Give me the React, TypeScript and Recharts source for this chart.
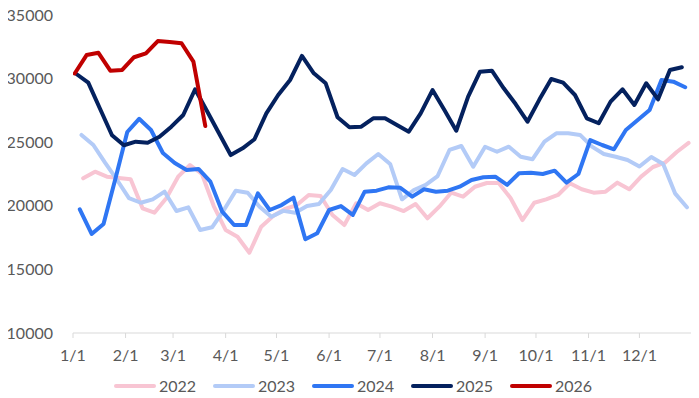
import React from "react";
import { LineChart, Line, XAxis, YAxis, Legend } from "recharts";

// Weekly values (Friday observations), first observation day-of-year offset per year
const values2022 = [22160, 22680, 22290, 22190, 22080, 19800, 19460, 20590, 22290, 23210, 22500, 19980, 18100, 17570, 16310, 18360, 19200, 19750, 20060, 20850, 20770, 19280, 18490, 20200, 19670, 20200, 19930, 19590, 20140, 19020, 19930, 21030, 20720, 21500, 21790, 21790, 20610, 18880, 20240, 20510, 20850, 21770, 21300, 21030, 21110, 21820, 21300, 22290, 23050, 23390, 24230, 24940];
const values2023 = [25570, 24780, 23370, 22030, 20610, 20240, 20510, 21110, 19590, 19880, 18100, 18310, 19670, 21190, 21030, 19930, 19140, 19600, 19460, 19980, 20140, 21240, 22890, 22420, 23340, 24070, 23290, 20510, 21240, 21640, 22340, 24390, 24700, 23070, 24640, 24250, 24650, 23860, 23660, 25040, 25700, 25700, 25570, 24650, 24070, 23860, 23600, 23090, 23840, 23290, 20980, 19880];
const values2024 = [19725, 17784, 18570, 22130, 25800, 26840, 25960, 24150, 23370, 22820, 22900, 21900, 19540, 18490, 18490, 20980, 19670, 20060, 20640, 17370, 17840, 19670, 19980, 19280, 21110, 21190, 21450, 21420, 20720, 21300, 21110, 21190, 21500, 22030, 22240, 22290, 21640, 22560, 22600, 22500, 22760, 21820, 22500, 25170, 24780, 24440, 25960, 26750, 27530, 29890, 29760, 29320];
const values2025 = [30362, 29678, 27610, 25546, 24760, 25040, 24960, 25430, 26220, 27140, 29160, 27450, 25720, 23990, 24520, 25230, 27270, 28710, 29890, 31780, 30420, 29630, 26960, 26170, 26220, 26880, 26880, 26350, 25830, 27270, 29100, 27530, 25900, 28580, 30540, 30620, 29240, 28000, 26610, 28350, 29970, 29680, 28710, 26880, 26490, 28190, 29160, 27930, 29630, 28370, 30680, 30890];
const values2026 = [30400, 31850, 32030, 30620, 30680, 31680, 31990, 32950, 32880, 32780, 31330, 26280];

const seriesNames = ["2022", "2023", "2024", "2025", "2026"];
const startDays = [6, 5, 4, 2, 1];
const seriesColors = ["#F8C5D3", "#B3CBF7", "#2F76F3", "#04215E", "#C00000"];

const monthTicks = [0, 31, 59, 90, 120, 151, 181, 212, 243, 273, 304, 334, 365];
const monthLabels = ["1/1", "2/1", "3/1", "4/1", "5/1", "6/1", "7/1", "8/1", "9/1", "10/1", "11/1", "12/1", ""];
const yTicks = [10000, 15000, 20000, 25000, 30000, 35000];

const allValues = [values2022, values2023, values2024, values2025, values2026];
const seriesData = allValues.map((vals, s) =>
  vals.map((v, i) => ({ d: startDays[s] + 7 * i, v }))
);

const FONT = "Lato, 'Open Sans', sans-serif";

const CustomLegend = () => (
  <div
    style={{
      height: 25,
      display: "flex",
      justifyContent: "center",
      alignItems: "center",
      paddingLeft: 6,
      fontFamily: FONT,
      fontSize: 16,
      color: "#595959",
    }}
  >
    {seriesNames.map((name, i) => (
      <div key={name} style={{ display: "flex", alignItems: "center", marginRight: i < seriesNames.length - 1 ? 17 : 0 }}>
        <div style={{ width: 42, height: 4, borderRadius: 2, background: seriesColors[i], marginRight: 3 }} />
        <span style={{ width: 37, lineHeight: "16px" }}>{name}</span>
      </div>
    ))}
  </div>
);

export default function App() {
  return (
    <div style={{ marginTop: -8 }}>
      <LineChart width={691} height={398} margin={{ top: 15, right: 7, left: 0, bottom: 0 }}>
        <XAxis
          type="number"
          dataKey="d"
          domain={[0, 365]}
          ticks={monthTicks}
          tickFormatter={(t: number) => monthLabels[monthTicks.indexOf(t)] ?? ""}
          allowDataOverflow
          height={40}
          stroke="#D9D9D9"
          tickSize={5}
          tickMargin={12}
          tick={{ fill: "#595959", fontSize: 16, fontFamily: FONT }}
          interval={0}
        />
        <YAxis
          domain={[10000, 35000]}
          ticks={yTicks}
          width={65}
          axisLine={false}
          tickLine={false}
          tickSize={0}
          tickMargin={20}
          tick={{ fill: "#595959", fontSize: 16, fontFamily: FONT }}
          interval={0}
        />
        <Legend verticalAlign="bottom" height={25} content={() => <CustomLegend />} />
        {seriesNames.map((name, i) => (
          <Line
            key={name}
            name={name}
            data={seriesData[i]}
            dataKey="v"
            type="linear"
            stroke={seriesColors[i]}
            strokeWidth={4}
            strokeLinejoin="round"
            strokeLinecap="round"
            dot={false}
            activeDot={false}
            isAnimationActive={false}
          />
        ))}
      </LineChart>
    </div>
  );
}
